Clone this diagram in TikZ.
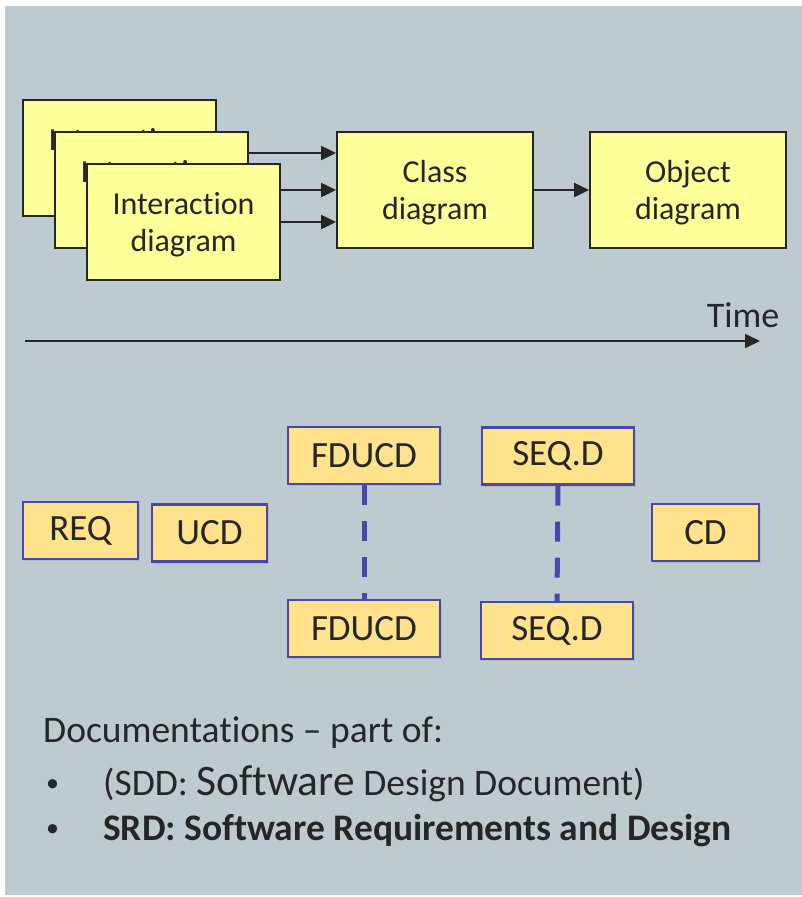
\documentclass[tikz,border=0pt]{standalone}
\usepackage{fontspec}
\setmainfont{Carlito}[Ligatures={NoCommon}, Contextuals={NoAlternate}]
\usetikzlibrary{arrows.meta,shadows}
\definecolor{panel}{RGB}{189,203,208}
\definecolor{paleyellow}{RGB}{255,255,153}
\definecolor{boxorange}{RGB}{255,226,140}
\definecolor{boxblue}{RGB}{72,72,172}
\definecolor{ink}{RGB}{38,38,38}
\tikzset{
  diagbox/.style={draw=ink, line width=2pt, fill=paleyellow, text=ink,
    minimum width=193pt, minimum height=116pt, inner sep=0pt, align=center,
    text depth=0pt, font=\fontsize{32}{37}\selectfont},
  docbox/.style={draw=boxblue, line width=2.2pt, fill=boxorange, text=ink,
    minimum height=57pt, inner sep=0pt, font=\fontsize{37}{43}\selectfont,
    drop shadow={shadow xshift=2pt, shadow yshift=-2pt, opacity=0.25}},
  flow/.style={draw=ink, line width=2.5pt, -{Triangle[length=15pt,width=14pt]}},
  link/.style={draw=boxblue, line width=5pt, dash pattern=on 20pt off 16pt},
  txt/.style={anchor=base west, inner sep=0pt, text=ink, font=\fontsize{37.5}{44}\selectfont},
  dot/.style={anchor=base west, inner sep=0pt, text=ink, font=\fontsize{26}{30}\selectfont}
}
\begin{document}
\begin{tikzpicture}[x=1pt,y=-1pt]
\useasboundingbox (0,0) rectangle (802,897);
\fill[white] (0,0) rectangle (802,897);
\fill[panel] (5,6) rectangle (802,895);

% stacked interaction diagrams
\node[diagbox] (inter1) at (119.5,157.5) {Interaction\\diagram};
\node[diagbox] (inter2) at (151.5,190) {Interaction\\diagram};
\node[diagbox] (inter3) at (183.5,222) {Interaction\\diagram};
\node[diagbox, minimum width=196pt] (class) at (435,190) {Class\\diagram};
\node[diagbox, minimum width=196pt] (object) at (688,190) {Object\\diagram};

\draw[flow] ([yshift=37pt]inter2.east) -- ([yshift=37pt]class.west);
\draw[flow] ([yshift=32pt]inter3.east) -- (class.west);
\draw[flow] (inter3.east) -- ([yshift=-32pt]class.west);
\draw[flow] (class) -- (object);

% time axis
\coordinate (t0) at (25,341);
\coordinate (t1) at (760,341);
\draw[draw=ink, line width=2pt, -{Triangle[length=15pt,width=14pt]}] (t0) -- (t1);
\node[text=ink, inner sep=0pt, font=\fontsize{36}{43}\selectfont] (time) at (743,315) {Time};

% documents
\node[docbox, minimum width=115pt] (req) at (80.5,530.5) {REQ};
\node[docbox, minimum width=115pt] (ucd) at (209.5,533) {UCD};
\node[docbox, minimum width=152pt] (fd1) at (364,455.5) {FDUCD};
\node[docbox, minimum width=152pt] (fd2) at (364,628.5) {FDUCD};
\node[docbox, minimum width=152pt] (sq1) at (558,456) {SEQ.D};
\node[docbox, minimum width=152pt] (sq2) at (557,630.5) {SEQ.D};
\node[docbox, minimum width=107pt] (cd) at (705.5,532.5) {CD};

\draw[link] (fd1.south) -- (fd2.north);
\draw[link] (sq1.south) -- (sq2.north);

% notes
\node[txt] (doc) at (43,742) {Documentations – part of:};
\node[dot] (b1) at (46,791) {•};
\node[txt] (sdd) at (103,795) {(SDD: {\fontsize{43.5}{50}\selectfont Software} Design Document)};
\node[dot] (b2) at (46,836) {•};
\node[txt] (srd) at (103,840) {\fontsize{37.5}{44}\selectfont\bfseries SRD: Software Requirements and Design};
\end{tikzpicture}
\end{document}
